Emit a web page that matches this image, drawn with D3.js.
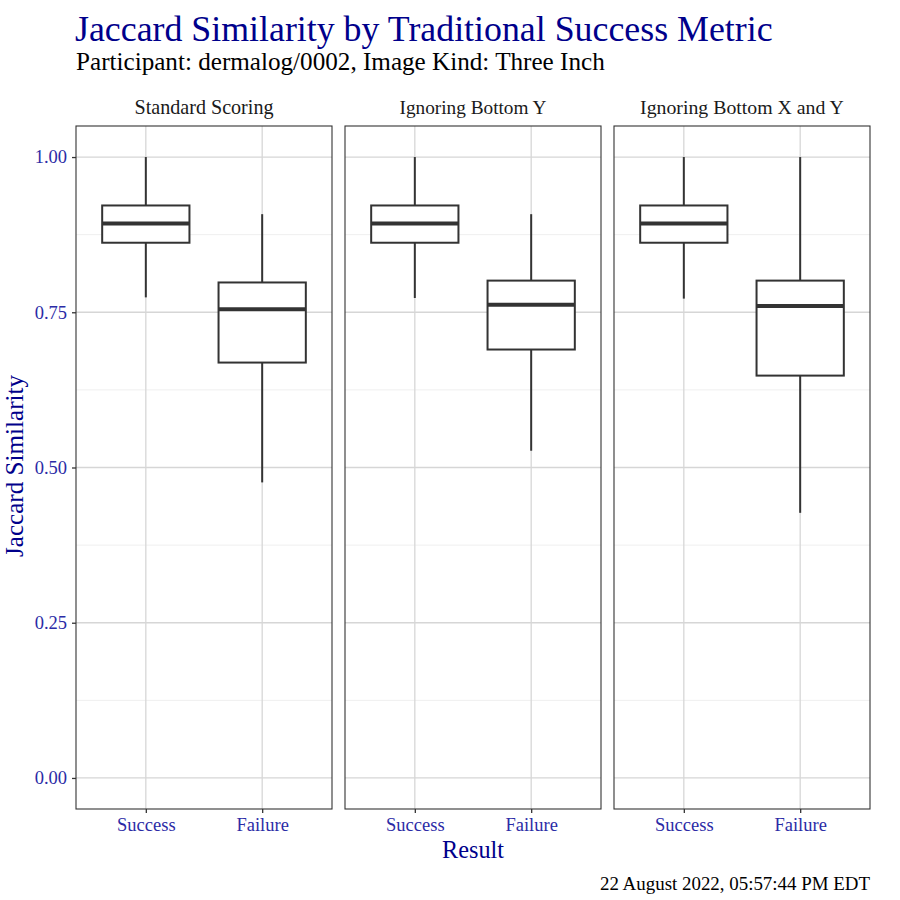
<!DOCTYPE html>
<html>
<head>
<meta charset="utf-8">
<script src="https://cdn.jsdelivr.net/npm/d3@7"></script>
<style>
  html, body { margin: 0; padding: 0; background: #fff; }
  svg text { font-family: "Liberation Serif", "DejaVu Serif", serif; }
</style>
</head>
<body>
<svg id="chart" width="900" height="900"></svg>
<script>
// ---- data ----
const facets = ["Standard Scoring", "Ignoring Bottom Y", "Ignoring Bottom X and Y"];
const categories = ["Success", "Failure"];
// per facet: [lower whisker, Q1, median, Q3, upper whisker]
const successStats = [
  [0.774, 0.862, 0.893, 0.922, 1.000],
  [0.773, 0.862, 0.893, 0.922, 1.000],
  [0.772, 0.862, 0.893, 0.922, 1.000]
];
const failureStats = [
  [0.476, 0.669, 0.755, 0.798, 0.908],
  [0.527, 0.690, 0.762, 0.801, 0.908],
  [0.427, 0.648, 0.760, 0.801, 1.000]
];
const yTicks = [0, 0.25, 0.5, 0.75, 1.0];
const yMinorTicks = [0.125, 0.375, 0.625, 0.875];
const titleText = "Jaccard Similarity by Traditional Success Metric";
const subtitleText = "Participant: dermalog/0002, Image Kind: Three Inch";
const xTitle = "Result";
const yTitle = "Jaccard Similarity";
const captionText = "22 August 2022, 05:57:44 PM EDT";

// ---- layout ----
const svg = d3.select("#chart");
const panelTop = 126, panelBottom = 809;
const panelLefts = [76, 345, 614];
const panelW = 256;

const y = d3.scaleLinear().domain([-0.05, 1.05]).range([panelBottom, panelTop]);
// discrete scale: positions 1..n with 0.6 expansion on both sides
const xb = d3.scaleLinear().domain([0.4, 2.6]).range([0, panelW]);
const xpos = c => xb(categories.indexOf(c) + 1);
const unit = xb(1) - xb(0);
const boxW = 0.75 * unit;

const tickColor = "#2b2ba6";
const titleColor = "#00008b";
const stripWidths = [139, 147, 204];

function fit(sel, width) {
  const node = sel.node();
  const fs = parseFloat(sel.attr("font-size"));
  const w = node.getComputedTextLength();
  sel.attr("font-size", (fs * width / w).toFixed(2));
  return sel;
}

// titles
fit(svg.append("text").attr("x", 75).attr("y", 41).attr("font-size", 32)
  .attr("fill", titleColor).text(titleText), 698);
fit(svg.append("text").attr("x", 76).attr("y", 70).attr("font-size", 20)
  .attr("fill", "#000").text(subtitleText), 529);

facets.forEach((f, i) => {
  const g = svg.append("g").attr("transform", `translate(${panelLefts[i]},0)`);
  // strip text
  fit(g.append("text").attr("x", panelW / 2).attr("y", 114).attr("text-anchor", "middle")
    .attr("font-size", 16).attr("fill", "#1a1a1a").text(f), stripWidths[i]);

  // minor grid
  g.selectAll(".minor").data(yMinorTicks).enter().append("line")
    .attr("x1", 0).attr("x2", panelW).attr("y1", d => y(d)).attr("y2", d => y(d))
    .attr("stroke", "#efefef").attr("stroke-width", 1);
  // major grid
  g.selectAll(".major").data(yTicks).enter().append("line")
    .attr("x1", 0).attr("x2", panelW).attr("y1", d => y(d)).attr("y2", d => y(d))
    .attr("stroke", "#d6d6d6").attr("stroke-width", 1.3);
  g.selectAll(".vmajor").data(categories).enter().append("line")
    .attr("x1", d => xpos(d)).attr("x2", d => xpos(d)).attr("y1", panelTop).attr("y2", panelBottom)
    .attr("stroke", "#d6d6d6").attr("stroke-width", 1.3);

  // boxes
  const stats = [successStats[i], failureStats[i]];
  categories.forEach((c, k) => {
    const s = stats[k];
    const cx = xpos(c);
    g.append("line").attr("x1", cx).attr("x2", cx).attr("y1", y(s[4])).attr("y2", y(s[3]))
      .attr("stroke", "#333").attr("stroke-width", 2);
    g.append("line").attr("x1", cx).attr("x2", cx).attr("y1", y(s[1])).attr("y2", y(s[0]))
      .attr("stroke", "#333").attr("stroke-width", 2);
    g.append("rect").attr("x", cx - boxW / 2).attr("width", boxW)
      .attr("y", y(s[3])).attr("height", y(s[1]) - y(s[3]))
      .attr("fill", "#fff").attr("stroke", "#333").attr("stroke-width", 2);
    g.append("line").attr("x1", cx - boxW / 2).attr("x2", cx + boxW / 2)
      .attr("y1", y(s[2])).attr("y2", y(s[2]))
      .attr("stroke", "#333").attr("stroke-width", 4);
  });

  // panel border
  g.append("rect").attr("x", 0).attr("y", panelTop).attr("width", panelW).attr("height", panelBottom - panelTop)
    .attr("fill", "none").attr("stroke", "#333").attr("stroke-width", 1.1);

  // x axis
  const xa = g.append("g").attr("transform", `translate(0,${panelBottom})`)
    .call(d3.axisBottom(d3.scaleOrdinal().domain(categories).range(categories.map(xpos)))
      .tickSize(4).tickPadding(5));
  xa.select(".domain").remove();
  xa.selectAll(".tick line").attr("stroke", "#333").attr("stroke-width", 1.3);
  xa.selectAll(".tick text").attr("fill", tickColor).attr("font-size", 18.5)
    .attr("font-family", "Liberation Serif, serif");

  if (i === 0) {
    const ya = g.append("g").call(d3.axisLeft(y).tickValues(yTicks).tickFormat(d3.format(".2f"))
      .tickSize(4).tickPadding(5));
    ya.select(".domain").remove();
    ya.selectAll(".tick line").attr("stroke", "#333").attr("stroke-width", 1.3);
    ya.selectAll(".tick text").attr("fill", tickColor).attr("font-size", 18.5)
      .attr("font-family", "Liberation Serif, serif");
  }
});

// axis titles
fit(svg.append("text").attr("x", 473).attr("y", 858).attr("text-anchor", "middle")
  .attr("font-size", 21).attr("fill", titleColor).text(xTitle), 62);
fit(svg.append("text").attr("transform", "translate(23,466) rotate(-90)").attr("text-anchor", "middle")
  .attr("font-size", 21).attr("fill", titleColor).text(yTitle), 182);
// caption
fit(svg.append("text").attr("x", 870).attr("y", 890).attr("text-anchor", "end")
  .attr("font-size", 17).attr("fill", "#000").text(captionText), 270);
</script>
</body>
</html>
